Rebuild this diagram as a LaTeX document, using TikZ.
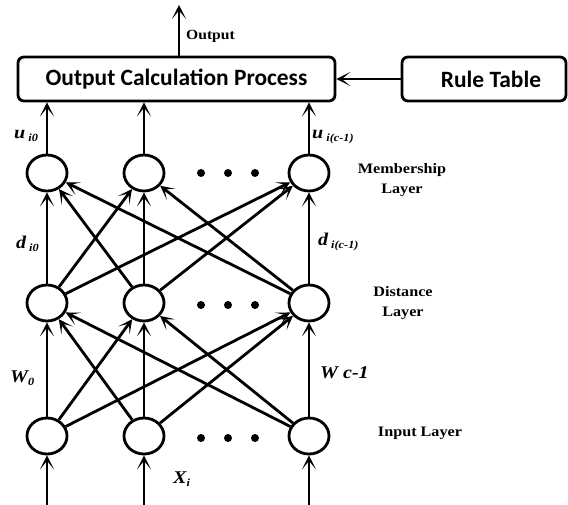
\documentclass[tikz,border=0pt]{standalone}
\usepackage{fontspec}
\setmainfont{Liberation Serif}[FakeStretch=1.12]
\newfontfamily\boxfont{Carlito}
\usetikzlibrary{arrows.meta,shapes.geometric}

\newcommand\lsub[1]{\raisebox{-3bp}{\fontsize{11}{11}\selectfont #1}}

\tikzset{
  neuron/.style={ellipse, draw, line width=2.8bp, minimum width=40bp, minimum height=36bp, inner sep=0pt},
  procbox/.style={draw, rounded corners=6bp, line width=2.8bp, minimum height=44bp, inner sep=0pt,
    font=\boxfont\fontsize{23.5}{23.5}\selectfont\bfseries},
  wire/.style={line width=2.8bp, -{Stealth[length=14bp,width=14bp,inset=8.5bp]}},
  lbl/.style={font=\fontsize{18}{18}\selectfont\bfseries\itshape, inner sep=0pt, anchor=base west},
  layer/.style={font=\fontsize{14.5}{20}\selectfont\bfseries, align=center, inner sep=0pt},
}

\begin{document}
\begin{tikzpicture}[x=1bp, y=-1bp]
    \useasboundingbox (0,0) rectangle (568,505);
    % Boxes:
    \node[procbox, minimum width=317bp] (calc) at (176.5,79) {Output Calculation Process\hspace{10bp}};
    \node[procbox, minimum width=164bp] (rule) at (484,79) {\hspace{14bp}Rule Table};
    \coordinate (outtop) at (179,5);
    \draw[wire] (calc.north -| outtop) -- (outtop);
    \node[font=\fontsize{14}{14}\selectfont\bfseries, inner sep=0pt, anchor=base west] (outlbl) at (186,40) {Output};
    \draw[wire] (rule) -- (calc);

    % Layers of neurons:
    \foreach \n/\x in {1/47,2/144,3/309} {
        \node[neuron] (m\n) at (\x,173) {};
        \node[neuron] (d\n) at (\x,303) {};
        \node[neuron] (i\n) at (\x,436) {};
        \coordinate (x\n) at (\x,505);
        \draw[wire] (x\n) -- (i\n);
        \draw[wire] (m\n) -- (m\n |- calc.south);
    }
    \foreach \y in {173,305,438}
        \foreach \x in {201,228,255}
            \fill (\x,\y) circle (4bp);

    % Wires between layers:
    \foreach \a in {1,2,3}
        \foreach \b in {1,2,3} {
            \draw[wire] (i\a) -- (d\b);
            \draw[wire] (d\a) -- (m\b);
        }

    % Labels:
    \node[lbl] (u0) at (14,139) {u\,\lsub{i0}};
    \node[lbl] (uc) at (312,139) {u\,\lsub{i(c-1)}};
    \node[lbl] (d0) at (16,248) {d\,\lsub{i0}};
    \node[lbl] (dc) at (318,245) {d\,\lsub{i(c-1)}};
    \node[lbl] (w0) at (10,382) {W\lsub{0}};
    \node[lbl] (wc) at (320,378) {W c-1};
    \node[lbl] (xi) at (173,483) {X\lsub{i}};
    \node[layer] (mlay) at (402,180) {Membership\\Layer};
    \node[layer] (dlay) at (403,303) {Distance\\Layer};
    \node[layer] (ilay) at (420,433) {Input Layer};
\end{tikzpicture}
\end{document}
